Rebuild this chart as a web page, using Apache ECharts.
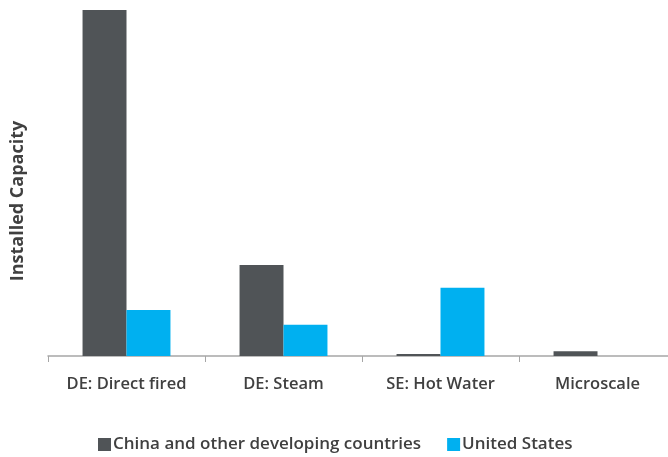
<!DOCTYPE html>
<html><head><meta charset="utf-8">
<script src="https://cdn.jsdelivr.net/npm/echarts@6/dist/echarts.min.js"></script>
<style>html,body{margin:0;padding:0;background:#fff}#c{width:668px;height:457px}</style>
</head><body><div id="c"></div>
<script>
const categories = ["DE: Direct fired", "DE: Steam", "SE: Hot Water", "Microscale"];
const china = [100, 26.3, 0.6, 1.4];
const us = [13.3, 9.0, 19.7, 0];
const seriesNames = ["China and other developing countries", "United States"];
const yTitle = "Installed Capacity";

const chart = echarts.init(document.getElementById('c'));
chart.setOption({
  animation: false,
  textStyle: {fontFamily: "Open Sans"},
  legend: {
    data: seriesNames, top: 431, left: 93, itemWidth: 13, itemHeight: 13, itemGap: 26,
    icon: 'rect',
    textStyle: {fontSize: 17, fontWeight: 600, color: '#404040', fontFamily: 'Open Sans', padding: [0,0,0,-3]}
  },
  graphic: [{
    type: 'text', x: 18, y: 201, rotation: Math.PI / 2,
    style: {text: yTitle, fontSize: 18, fontWeight: 'bold', fill: '#404040', fontFamily: 'Open Sans',
            textAlign: 'center', textVerticalAlign: 'middle'}
  }],
  grid: {left: 48, top: 10, width: 628, height: 346, outerBoundsMode: 'none'},
  xAxis: {
    type: 'category', data: categories,
    axisLine: {lineStyle: {color: '#a6a6a6', width: 1.5}},
    axisTick: {show: true, length: 6, lineStyle: {color: '#a6a6a6'}},
    axisLabel: {fontSize: 16.5, fontWeight: 600, color: '#404040', margin: 20, fontFamily: 'Open Sans'}
  },
  yAxis: {
    type: 'value', min: 0, max: 100,
    axisLabel: {show: false}, splitLine: {show: false}, axisLine: {show: false}, axisTick: {show: false}
  },
  series: [
    {name: seriesNames[0], type: 'bar', data: china, itemStyle: {color: '#505457'}, barGap: '0%', barCategoryGap: '44%'},
    {name: seriesNames[1], type: 'bar', data: us, itemStyle: {color: '#00b0f0'}}
  ]
});
</script></body></html>
